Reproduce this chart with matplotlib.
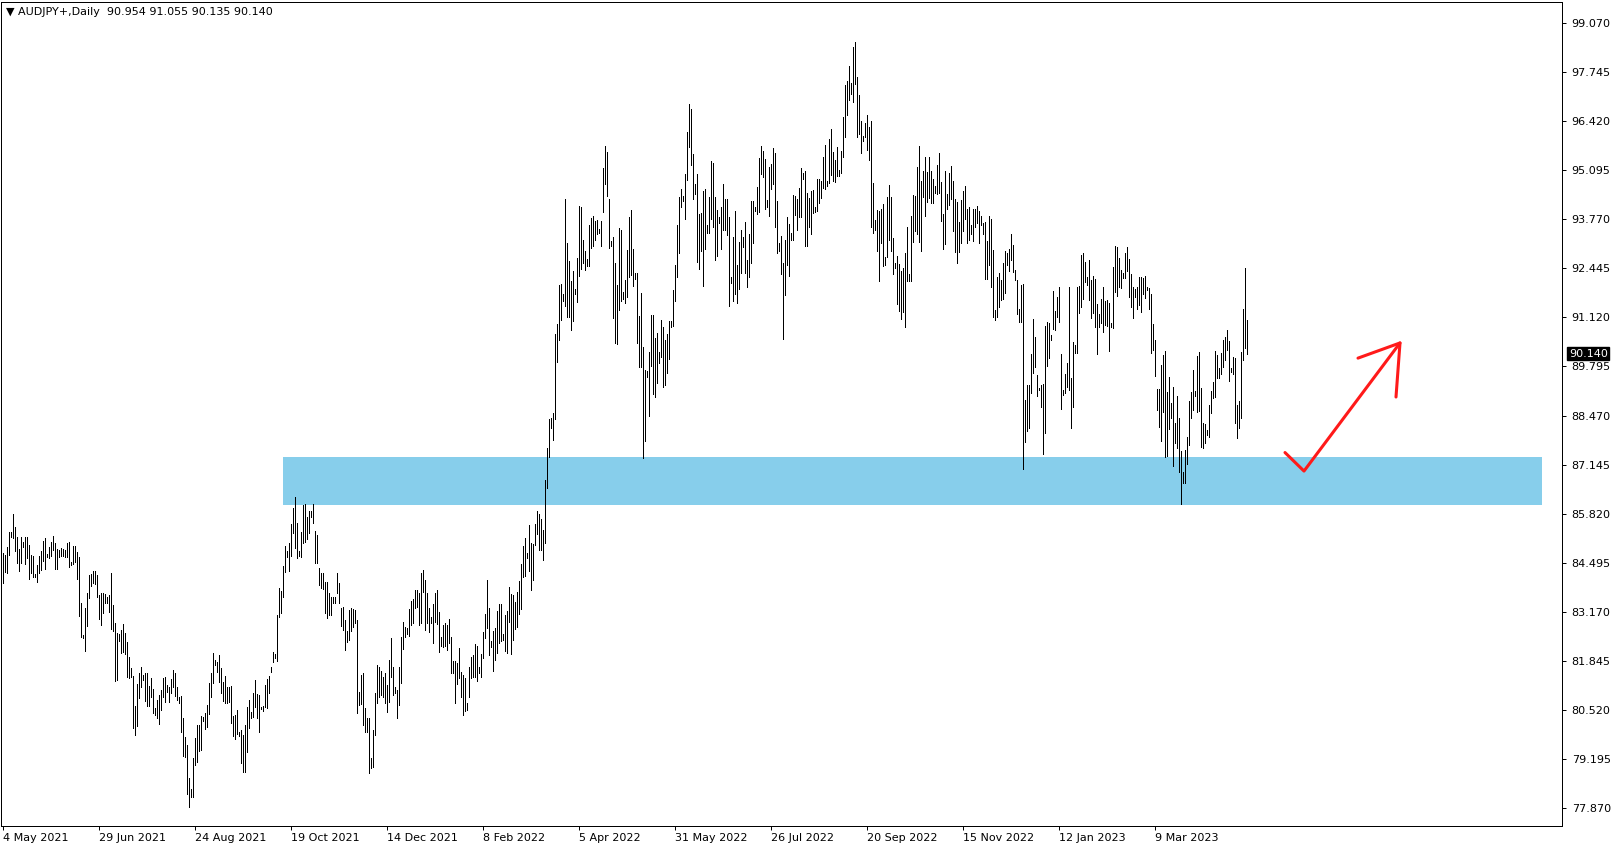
import numpy as np
import matplotlib.pyplot as plt
from matplotlib.patches import Rectangle

# AUDJPY+ daily bars (high / low), one bar per trading day
symbol = "AUDJPY+,Daily"
last_ohlc = [90.954, 91.055, 90.135, 90.140]

highs = [
    # May - Aug 2021
    84.75, 84.70, 84.93, 85.33, 85.33, 85.81, 85.47, 85.20, 84.86, 85.18,
    85.06, 85.18, 85.18, 84.97, 84.70, 84.68, 84.19, 84.43, 84.68, 84.82,
    85.09, 85.15, 84.73, 84.93, 85.06, 85.22, 85.02, 84.86, 84.84, 84.88,
    84.86, 84.84, 85.04, 85.06, 84.52, 84.95, 84.95, 84.79, 84.64, 83.42,
    82.55, 83.27, 83.69, 84.17, 84.19, 84.28, 84.26, 84.17, 83.62, 83.69,
    83.67, 83.65, 83.58, 83.62, 84.23, 83.36, 82.88, 82.59, 82.57, 82.68,
    82.84, 82.61, 82.36, 81.96, 81.64, 81.44, 80.63, 81.22, 81.51, 81.67,
    81.46, 81.51, 81.51, 81.17, 81.37, 81.08, 80.56, 80.79, 80.92,
    # Aug - Oct 2021
    81.06, 81.37, 81.42, 81.19, 81.13, 81.35, 81.60, 81.51, 81.13, 80.88,
    80.90, 80.29, 79.80, 79.57, 78.67, 78.38, 79.21, 79.75, 80.11, 80.11,
    80.36, 80.34, 80.43, 80.65, 81.26, 81.51, 82.07, 81.87, 81.82, 82.00,
    81.64, 81.28, 81.44, 81.15, 81.15, 81.17, 80.36, 80.38, 80.52, 79.93,
    79.98, 79.84, 80.11, 80.61, 80.79, 80.47, 80.99, 81.33, 80.95, 80.92,
    80.61, 80.63, 81.19, 81.35, 81.44, 81.67, 82.09, 82.03, 83.08, 83.80,
    83.74, 84.41, 84.95, 84.82, 85.04, 85.54, 85.97, 86.28, 85.58, 84.80,
    85.33, 86.06, 86.08, 85.74, 85.90, 85.88, 86.08,
    # Oct 2021 - Feb 2022
    85.35, 85.25, 84.35, 84.21, 84.21, 83.98, 83.98, 83.69, 83.58, 83.58,
    83.58, 84.21, 83.94, 83.26, 83.31, 82.95, 82.66, 83.22, 83.26, 83.24,
    83.22, 82.95, 81.01, 81.46, 81.51, 80.56, 80.29, 80.29, 79.21, 79.98,
    80.97, 81.73, 81.69, 81.58, 81.42, 81.51, 81.19, 81.87, 82.45, 81.69,
    81.15, 81.06, 81.69, 82.50, 82.90, 82.75, 82.72, 83.24, 83.47, 83.51,
    83.76, 83.76, 83.67, 84.21, 84.30, 84.03, 83.67, 83.26, 83.04, 83.38,
    83.67, 83.76, 83.17, 82.50, 82.81, 82.88, 82.81, 82.97, 82.50, 81.85,
    81.85, 81.78, 82.18, 81.55, 81.46,
    # Feb - Apr 2022
    81.37, 80.72, 81.67, 81.94, 82.00, 82.30, 82.24, 81.67, 82.04, 82.62,
    83.10, 84.02, 83.27, 82.37, 82.64, 82.72, 83.20, 83.37, 83.37, 82.57,
    83.07, 83.20, 83.84, 83.64, 83.62, 83.44, 83.70, 84.00, 84.47, 84.94,
    85.17, 84.77, 85.52, 85.02, 85.00, 85.54, 85.90, 85.80, 85.67, 85.37,
    86.74, 87.60, 88.37, 88.40, 88.54, 90.67, 90.94, 92.00, 92.02, 91.74,
    94.31, 93.13, 92.63, 92.11, 92.36, 91.89, 92.73, 94.13, 94.11, 93.21,
    92.91, 92.69, 93.61, 93.81, 93.86, 93.73, 93.76, 93.51, 93.73, 95.16,
    95.76, 95.59, 94.33, 93.19, 93.29, 92.59, 92.00, 93.53,
    # Apr - Jul 2022
    93.48, 91.81, 92.13, 92.94, 93.84, 94.02, 92.98, 92.33, 92.33, 91.16,
    91.79, 90.33, 89.70, 89.68, 90.19, 91.18, 91.18, 90.55, 90.71, 90.19,
    91.05, 90.87, 90.51, 90.67, 91.03, 91.03, 91.86, 92.53, 93.61, 94.38,
    94.58, 94.40, 94.99, 96.13, 96.88, 96.76, 95.53, 94.72, 94.99, 93.91,
    93.95, 94.54, 94.58, 93.61, 94.38, 95.33, 95.30, 94.36, 94.02, 93.84,
    94.09, 94.72, 94.33, 94.31, 93.82, 92.20, 93.30, 94.00, 92.53, 93.16,
    93.48, 93.30, 93.70, 92.67, 93.37, 94.27, 94.27, 94.09, 94.65, 95.42,
    95.75, 95.60, 95.39, 94.29, 95.19, 95.26, 95.69,
    # Jul - Oct 2022
    95.55, 94.27, 93.12, 93.33, 92.58, 93.21, 93.82, 93.64, 93.39, 94.43,
    94.41, 94.32, 94.61, 95.15, 95.02, 95.08, 94.47, 94.34, 94.54, 94.56,
    94.09, 94.86, 94.86, 94.81, 95.46, 95.78, 94.81, 95.94, 96.21, 95.58,
    95.37, 95.73, 95.10, 95.62, 96.54, 97.40, 97.51, 97.92, 97.44, 98.41,
    98.57, 97.62, 97.13, 96.43, 96.03, 96.36, 96.59, 96.27, 96.43, 94.74,
    93.75, 94.02, 94.00, 94.05, 94.18, 92.74, 94.36, 94.70, 94.36, 93.26,
    92.58, 92.79, 92.56, 92.36, 92.45, 92.85, 93.57, 92.29, 93.87, 94.43,
    94.41, 95.17, 95.76, 94.81, 95.06, 95.44, 95.04, 95.46,
    # Oct 2022 - Jan 2023
    95.06, 94.87, 94.67, 95.23, 95.55, 94.78, 93.91, 95.06, 94.45, 95.03,
    95.21, 94.81, 94.33, 94.24, 93.70, 94.29, 94.54, 94.67, 94.06, 94.11,
    93.61, 94.06, 94.04, 94.13, 94.00, 93.86, 93.68, 93.70, 93.19, 93.86,
    93.77, 92.94, 91.32, 92.22, 92.33, 92.13, 92.58, 92.92, 92.87, 92.98,
    93.37, 93.08, 92.40, 92.13, 91.34, 91.99, 92.02, 88.89, 89.29, 89.29,
    90.13, 91.07, 90.60, 89.56, 89.20, 89.29, 89.32, 90.89, 91.00, 90.98,
    90.64, 91.84, 91.30, 91.68, 91.93, 90.13, 89.16, 89.59, 89.90, 91.93,
    89.47, 90.46, 90.37, 91.95, 91.97, 92.80, 92.85,
    # Jan - Apr 2023
    92.62, 92.22, 92.67, 92.13, 92.25, 92.16, 91.47, 91.20, 91.62, 91.95,
    91.56, 91.59, 91.50, 90.96, 92.49, 93.06, 93.03, 92.73, 92.40, 92.31,
    92.85, 93.03, 92.70, 92.28, 91.95, 91.89, 91.95, 92.22, 92.22, 92.19,
    92.25, 91.95, 91.91, 91.74, 90.93, 90.51, 89.19, 89.19, 89.84, 90.11,
    90.21, 89.11, 89.52, 88.80, 89.25, 88.26, 89.01, 88.39, 87.50, 86.94,
    87.54, 87.90, 88.85, 89.11, 89.70, 89.13, 90.09, 90.18, 89.22, 88.26,
    88.23, 88.08, 88.76, 89.13, 89.37, 90.20, 90.11, 89.75, 90.15, 90.51,
    90.60, 90.78, 90.48, 89.76, 90.06, 90.03, 88.76, 88.86, 90.18, 91.35,
    92.46, 91.055,
]

lows = [
    83.94, 84.25, 84.23, 84.70, 85.18, 85.15, 84.82, 84.48, 84.28, 84.50,
    84.91, 84.45, 84.61, 84.05, 84.23, 84.12, 84.12, 83.98, 84.23, 84.30,
    84.55, 84.32, 84.64, 84.61, 84.68, 84.84, 84.32, 84.32, 84.66, 84.68,
    84.68, 84.64, 84.64, 84.39, 84.43, 84.46, 84.52, 84.06, 83.06, 82.48,
    82.45, 82.12, 82.79, 83.53, 83.87, 83.96, 83.92, 83.58, 82.97, 82.81,
    83.13, 83.40, 83.42, 83.17, 82.70, 82.66, 81.31, 81.33, 82.39, 82.05,
    82.09, 82.03, 81.42, 81.37, 81.40, 80.03, 79.85, 80.09, 80.83, 81.15,
    81.33, 80.77, 80.63, 80.63, 80.86, 80.45, 80.38, 80.29, 80.14,

    80.52, 80.88, 80.74, 81.01, 80.74, 80.97, 81.15, 80.90, 80.79, 80.72,
    79.91, 79.28, 79.26, 78.25, 77.91, 78.18, 78.18, 79.03, 79.12, 79.42,
    79.44, 80.23, 80.00, 80.07, 80.41, 80.88, 81.26, 81.73, 81.55, 81.28,
    80.97, 80.77, 80.72, 80.72, 80.74, 80.18, 79.82, 79.73, 79.87, 79.82,
    79.08, 78.85, 78.85, 79.39, 80.02, 80.29, 80.32, 80.61, 80.29, 79.93,
    80.54, 80.50, 80.59, 80.56, 80.97, 81.55, 81.82, 81.91, 81.85, 83.02,
    83.13, 83.56, 84.25, 84.64, 84.28, 84.68, 85.31, 84.88, 84.61, 84.68,
    84.64, 85.02, 85.06, 85.13, 85.31, 85.72, 85.58,

    84.50, 84.50, 83.89, 83.80, 83.78, 83.13, 82.99, 83.08, 83.08, 83.42,
    83.40, 83.69, 83.40, 82.79, 82.68, 82.14, 82.36, 82.41, 82.66, 82.75,
    82.86, 80.45, 80.66, 80.68, 80.11, 79.91, 79.91, 78.81, 78.94, 78.99,
    79.84, 80.70, 80.88, 80.92, 80.88, 80.72, 80.47, 80.74, 81.42, 80.92,
    80.97, 80.29, 80.66, 81.26, 82.16, 82.50, 82.57, 82.52, 82.81, 82.86,
    83.26, 83.31, 82.81, 82.86, 83.71, 82.68, 82.88, 82.63, 82.88, 82.34,
    82.90, 82.84, 82.09, 82.25, 82.21, 82.25, 82.14, 82.32, 81.51, 81.51,
    80.70, 81.22, 81.38, 80.86, 80.38,

    80.48, 80.52, 80.87, 81.37, 81.42, 81.42, 81.30, 81.52, 81.42, 81.92,
    82.47, 82.72, 82.00, 82.22, 81.57, 81.87, 82.07, 82.34, 82.37, 82.42,
    82.10, 82.07, 82.90, 82.02, 82.42, 82.70, 82.77, 83.10, 83.24, 84.10,
    84.14, 84.62, 84.27, 83.77, 84.02, 84.97, 85.27, 84.84, 84.84, 84.57,
    85.02, 86.50, 87.34, 88.14, 87.82, 88.37, 89.92, 90.52, 91.04, 91.57,
    91.44, 91.14, 91.14, 90.77, 91.02, 91.76, 91.53, 92.23, 92.43, 92.59,
    92.41, 92.51, 92.51, 92.99, 93.06, 93.21, 93.36, 93.41, 93.06, 93.96,
    94.73, 94.39, 92.99, 93.06, 91.11, 90.43, 90.41, 91.31,

    91.57, 91.61, 91.50, 91.66, 92.22, 92.26, 91.97, 92.15, 90.44, 89.78,
    89.77, 87.31, 87.79, 89.50, 88.46, 89.81, 89.05, 88.98, 89.36, 89.90,
    90.06, 89.23, 89.29, 89.63, 89.99, 90.85, 90.89, 91.57, 92.22, 92.85,
    94.09, 94.25, 93.77, 94.83, 95.73, 95.23, 94.31, 94.45, 92.62, 92.42,
    92.92, 91.97, 92.96, 93.39, 93.39, 93.79, 93.57, 92.67, 92.78, 93.66,
    92.96, 93.48, 93.48, 93.35, 91.43, 92.06, 91.57, 91.75, 91.52, 91.90,
    92.33, 93.03, 92.31, 91.95, 92.22, 92.60, 93.14, 94.00, 93.91, 93.97,
    94.99, 94.90, 94.04, 94.11, 93.86, 94.58, 94.72,

    93.57, 92.85, 92.90, 92.29, 90.54, 91.73, 92.54, 92.25, 93.21, 93.21,
    93.89, 93.48, 93.84, 93.84, 94.86, 93.06, 93.06, 93.55, 93.37, 93.93,
    93.96, 93.98, 94.20, 94.34, 94.61, 94.59, 94.68, 94.74, 94.97, 94.79,
    94.77, 94.95, 94.93, 95.02, 95.46, 95.98, 96.59, 96.99, 97.15, 96.95,
    97.42, 95.98, 96.07, 95.55, 95.89, 95.98, 95.64, 95.37, 93.55, 93.39,
    93.48, 92.90, 92.11, 93.12, 92.52, 92.54, 92.74, 93.21, 92.92, 92.29,
    92.45, 91.48, 91.30, 91.08, 91.26, 90.85, 92.09, 92.11, 92.11, 93.15,
    93.44, 93.37, 93.15, 92.92, 94.38, 93.87, 94.23, 94.34,

    94.22, 94.22, 94.47, 94.45, 94.49, 93.73, 92.96, 93.10, 94.04, 94.15,
    94.33, 93.46, 92.89, 92.60, 92.89, 93.12, 93.46, 93.77, 93.14, 93.21,
    93.37, 93.17, 93.57, 93.66, 93.12, 93.61, 93.37, 92.15, 92.17, 92.53,
    91.93, 91.14, 91.05, 91.12, 91.41, 91.59, 91.61, 91.79, 92.53, 92.38,
    92.67, 92.35, 92.13, 91.21, 91.00, 91.00, 87.02, 87.76, 88.06, 88.12,
    89.07, 89.63, 89.77, 89.00, 89.16, 88.71, 87.43, 88.01, 89.81, 90.01,
    90.51, 90.80, 90.78, 91.14, 91.00, 88.64, 89.02, 89.09, 89.23, 89.16,
    88.12, 88.71, 90.15, 90.15, 91.25, 91.41, 91.63,

    92.07, 91.99, 91.59, 91.10, 91.23, 90.87, 90.12, 90.87, 90.96, 90.72,
    90.92, 90.90, 90.21, 90.87, 90.82, 91.80, 91.71, 91.95, 91.92, 92.18,
    92.18, 92.36, 91.68, 91.41, 91.10, 91.68, 91.35, 91.45, 91.27, 91.74,
    91.65, 91.86, 91.35, 90.17, 90.24, 89.55, 88.62, 88.17, 87.78, 88.56,
    87.36, 87.39, 88.11, 88.39, 87.12, 87.72, 87.60, 86.94, 86.07, 86.64,
    86.64, 87.15, 87.67, 88.41, 88.62, 89.01, 88.56, 88.59, 87.63, 87.60,
    87.72, 87.94, 87.90, 88.53, 88.95, 88.98, 89.49, 89.48, 89.58, 89.79,
    89.97, 90.24, 89.40, 89.64, 89.58, 88.26, 87.87, 88.12, 88.41, 89.97,
    90.30, 90.135,
]

date_labels = ["4 May 2021", "29 Jun 2021", "24 Aug 2021", "19 Oct 2021",
               "14 Dec 2021", "8 Feb 2022", "5 Apr 2022", "31 May 2022",
               "26 Jul 2022", "20 Sep 2022", "15 Nov 2022", "12 Jan 2023",
               "9 Mar 2023"]
bars_per_label = 48

price_ticks = [77.870, 79.195, 80.520, 81.845, 83.170, 84.495, 85.820, 87.145,
               88.470, 89.795, 91.120, 92.445, 93.770, 95.095, 96.420, 97.745,
               99.070]

# support zone (price band) and the hand-drawn arrow, in bar / price units
zone_low, zone_high = 86.05, 87.35
zone_start, zone_end = 140, 769.5
arrow_x = [641, 650.5, 698.5]
arrow_y = [87.47, 86.97, 90.43]
head_x = [677.5, 698.5, 696.5]
head_y = [90.02, 90.43, 88.97]

assert len(highs) == len(lows), (len(highs), len(lows))

W, H = 1624, 850
fig = plt.figure(figsize=(W / 100, H / 100), dpi=100)
ax = fig.add_axes([1 / W, 24 / H, 1561 / W, 824 / H])

x = np.arange(len(highs))
ax.vlines(x, lows, highs, colors="black", linewidth=0.72, antialiased=False, zorder=3)

ax.add_patch(Rectangle((zone_start, zone_low), zone_end - zone_start,
                       zone_high - zone_low, facecolor="#87CEEB",
                       edgecolor="none", zorder=1))

ax.plot(arrow_x, arrow_y, color="#ff1a1a", lw=2.2, solid_joinstyle="round",
        solid_capstyle="round", zorder=4)
ax.plot(head_x, head_y, color="#ff1a1a", lw=2.2, solid_joinstyle="round",
        solid_capstyle="round", zorder=4)

ax.set_xlim(-1, 779.5)
ax.set_ylim(77.385, 99.637)

ax.yaxis.tick_right()
ax.set_yticks(price_ticks)
ax.set_yticklabels([f"{p:.3f}" for p in price_ticks])
ax.set_xticks([i * bars_per_label for i in range(len(date_labels))])
ax.set_xticklabels(date_labels)
for lbl in ax.get_xticklabels():
    lbl.set_horizontalalignment("left")
ax.tick_params(axis="both", direction="out", length=3, width=0.72,
               labelsize=8, color="black", pad=2)
ax.tick_params(axis="y", pad=4)

for s in ax.spines.values():
    s.set_linewidth(0.72)
    s.set_color("black")

ax.annotate(f"{last_ohlc[3]:.3f}", xy=(1, last_ohlc[3]),
            xycoords=("axes fraction", "data"), xytext=(5, 0),
            textcoords="offset points", ha="left", va="center",
            color="white", fontsize=8,
            bbox=dict(boxstyle="square,pad=0.15", fc="black", ec="black"))

fig.text(6 / W, 1 - 12 / H,
         "\u25bc " + symbol + "  " + " ".join(f"{v:.3f}" for v in last_ohlc),
         fontsize=8, va="center", ha="left")

fig.savefig("out.png", dpi=100)
